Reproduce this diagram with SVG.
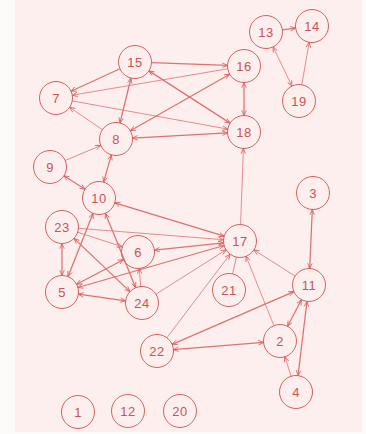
<svg xmlns="http://www.w3.org/2000/svg" width="366" height="434" viewBox="0 0 366 434">
<style>
.n circle{fill:none;stroke:#d8605e;stroke-width:1}
.n text{font-family:"Liberation Sans",Arial,sans-serif;font-size:13px;fill:#c95453;text-anchor:middle;dominant-baseline:central;letter-spacing:0.5px}
#connectors path{fill:none;stroke:#df7170}
.s{stroke-width:0.8}
.d{stroke-width:1.25}
.a{marker-end:url(#ah)}
.b{marker-end:url(#ah);marker-start:url(#ah)}
</style>
<defs>
<marker id="ah" viewBox="0 0 8 8" refX="7.5" refY="4" markerWidth="6" markerHeight="6" markerUnits="userSpaceOnUse" orient="auto-start-reverse">
<path d="M0.5,1 L7.5,4 L0.5,7" fill="none" stroke="#d8605e" stroke-width="1.1"/>
</marker>
</defs>
<rect width="366" height="434" fill="#fdfafa"/>
<rect x="15" y="0" width="347" height="432" fill="#fcefee"/>
<g id="connectors">
<path class="d a" d="M151.5,62.6 L227.5,65.4"/>
<path class="d a" d="M120,68.8 L71,91.2"/>
<path class="s a" d="M227.7,68.8 L72.3,95.2"/>
<path class="s a" d="M72.2,100.9 L227.8,129.1"/>
<path class="s a" d="M102.4,129.7 L69.6,107.3"/>
<path class="d b" d="M131,78 L120,123"/>
<path class="d b" d="M229.7,74.2 L130.3,130.8"/>
<path class="d b" d="M148.9,70.9 L230.1,123.1"/>
<path class="d b" d="M132.5,138.1 L227.5,132.9"/>
<path class="d b" d="M244,82.5 L244,115.5"/>
<path class="d a" d="M282.4,29.9 L295.6,28.1"/>
<path class="s b" d="M273.1,46.9 L291.9,86.1"/>
<path class="s a" d="M301.8,84.7 L309.2,42.3"/>
<path class="s a" d="M65.2,160.5 L100.8,145.5"/>
<path class="d b" d="M85.1,189.2 L63.9,175.8"/>
<path class="d b" d="M103.6,182.1 L111.4,154.9"/>
<path class="d b" d="M114.8,202.8 L224.2,236.2"/>
<path class="s a" d="M240.6,224.5 L243.4,148.5"/>
<path class="s a" d="M78.5,228.3 L223.5,239.7"/>
<path class="s a" d="M77.7,232.2 L122.3,246.8"/>
<path class="d b" d="M154.4,250.2 L223.6,242.8"/>
<path class="d b" d="M62,275.5 L62,243.5"/>
<path class="d b" d="M93,213.4 L68,276.6"/>
<path class="d b" d="M105.3,213.3 L135.7,287.7"/>
<path class="d b" d="M74,238.4 L130,291.6"/>
<path class="d b" d="M76.6,284.3 L123.4,259.7"/>
<path class="d b" d="M77.9,287.5 L224.1,245.5"/>
<path class="d b" d="M78.3,294.2 L125.7,300.8"/>
<path class="s a" d="M140.7,286.5 L139.3,268.5"/>
<path class="s a" d="M155.9,294.2 L226.1,249.8"/>
<path class="s a" d="M166.9,337.8 L230.1,254.2"/>
<path class="s" d="M232.6,273.9 L236.4,257.1"/>
<path class="s a" d="M273.9,325.7 L246.1,256.3"/>
<path class="s a" d="M295.1,276.1 L253.9,249.9"/>
<path class="d b" d="M309.7,268.5 L312.3,209.5"/>
<path class="d b" d="M172.1,344.4 L293.9,291.6"/>
<path class="d b" d="M173.4,349.7 L263.6,342.3"/>
<path class="d b" d="M287.6,326.3 L301.4,299.7"/>
<path class="d b" d="M298,375.6 L307,301.4"/>
<path class="s a" d="M291.1,376.3 L284.9,356.7"/>
</g>
<g id="n1" class="n"><circle cx="78" cy="412" r="16.5"/><text x="78" y="412">1</text></g>
<g id="n2" class="n"><circle cx="280" cy="341" r="16.5"/><text x="280" y="341">2</text></g>
<g id="n3" class="n"><circle cx="313" cy="193" r="16.5"/><text x="313" y="193">3</text></g>
<g id="n4" class="n"><circle cx="296" cy="392" r="16.5"/><text x="296" y="392">4</text></g>
<g id="n5" class="n"><circle cx="62" cy="292" r="16.5"/><text x="62" y="292">5</text></g>
<g id="n6" class="n"><circle cx="138" cy="252" r="16.5"/><text x="138" y="252">6</text></g>
<g id="n7" class="n"><circle cx="56" cy="98" r="16.5"/><text x="56" y="98">7</text></g>
<g id="n8" class="n"><circle cx="116" cy="139" r="16.5"/><text x="116" y="139">8</text></g>
<g id="n9" class="n"><circle cx="50" cy="167" r="16.5"/><text x="50" y="167">9</text></g>
<g id="n10" class="n"><circle cx="99" cy="198" r="16.5"/><text x="99" y="198">10</text></g>
<g id="n11" class="n"><circle cx="309" cy="285" r="16.5"/><text x="309" y="285">11</text></g>
<g id="n12" class="n"><circle cx="128" cy="411" r="16.5"/><text x="128" y="411">12</text></g>
<g id="n13" class="n"><circle cx="266" cy="32" r="16.5"/><text x="266" y="32">13</text></g>
<g id="n14" class="n"><circle cx="312" cy="26" r="16.5"/><text x="312" y="26">14</text></g>
<g id="n15" class="n"><circle cx="135" cy="62" r="16.5"/><text x="135" y="62">15</text></g>
<g id="n16" class="n"><circle cx="244" cy="66" r="16.5"/><text x="244" y="66">16</text></g>
<g id="n17" class="n"><circle cx="240" cy="241" r="16.5"/><text x="240" y="241">17</text></g>
<g id="n18" class="n"><circle cx="244" cy="132" r="16.5"/><text x="244" y="132">18</text></g>
<g id="n19" class="n"><circle cx="299" cy="101" r="16.5"/><text x="299" y="101">19</text></g>
<g id="n20" class="n"><circle cx="180" cy="411" r="16.5"/><text x="180" y="411">20</text></g>
<g id="n21" class="n"><circle cx="229" cy="290" r="16.5"/><text x="229" y="290">21</text></g>
<g id="n22" class="n"><circle cx="157" cy="351" r="16.5"/><text x="157" y="351">22</text></g>
<g id="n23" class="n"><circle cx="62" cy="227" r="16.5"/><text x="62" y="227">23</text></g>
<g id="n24" class="n"><circle cx="142" cy="303" r="16.5"/><text x="142" y="303">24</text></g>
</svg>
